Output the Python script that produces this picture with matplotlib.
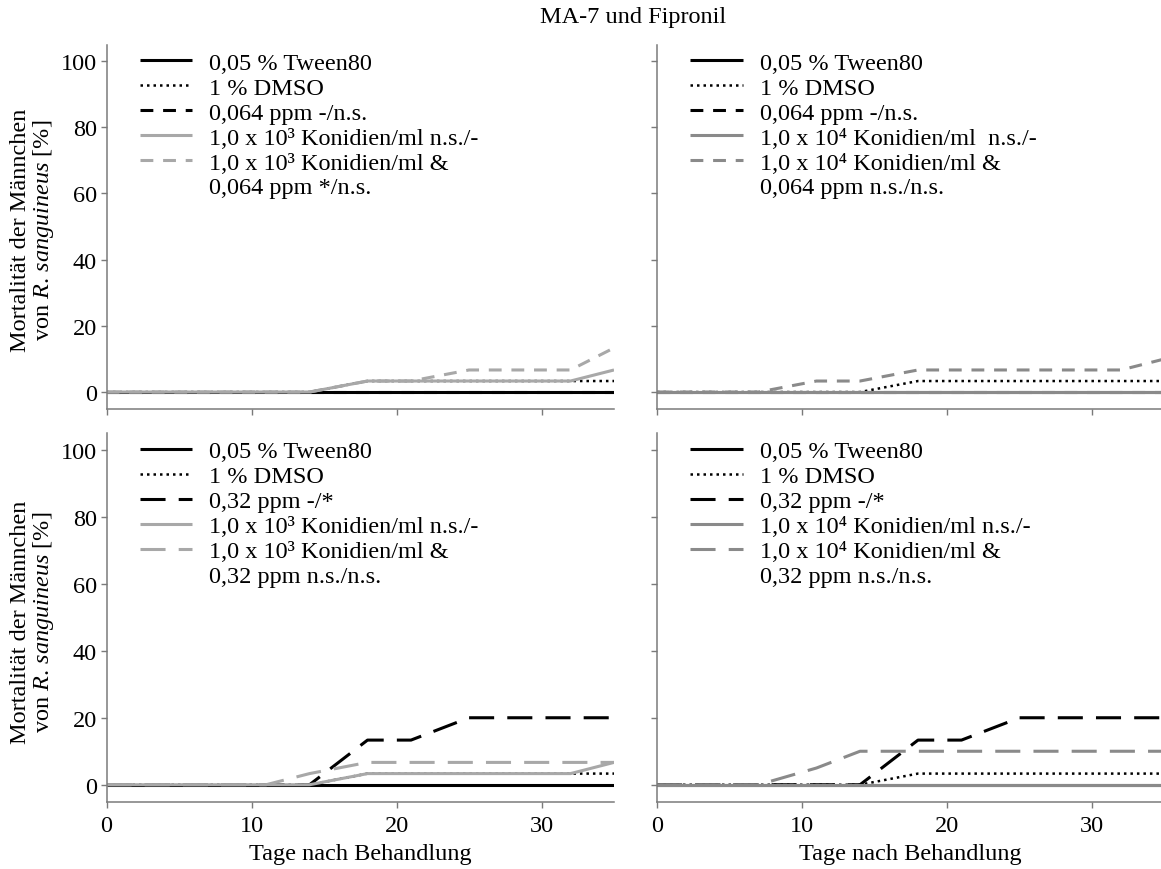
import matplotlib
matplotlib.use("Agg")
import matplotlib.pyplot as plt
from matplotlib.lines import Line2D

plt.rcParams['font.family'] = ['Liberation Serif', 'DejaVu Serif']
plt.rcParams['mathtext.fontset'] = 'custom'
plt.rcParams['mathtext.rm'] = 'Liberation Serif'
plt.rcParams['mathtext.it'] = 'Liberation Serif:italic'
plt.rcParams['font.size'] = 17.5

FS = 17.5

# Beobachtungstage
days = [0, 4, 7, 11, 14, 18, 21, 25, 28, 32, 35]

# 0,064 ppm Fipronil, 1,0 x 10^3 Konidien/ml
tl_tween = [0, 0, 0, 0, 0, 0, 0, 0, 0, 0, 0]
tl_dmso = [0, 0, 0, 0, 0, 3.33, 3.33, 3.33, 3.33, 3.33, 3.33]
tl_fip = [0, 0, 0, 0, 0, 0, 0, 0, 0, 0, 0]
tl_ma7 = [0, 0, 0, 0, 0, 3.33, 3.33, 3.33, 3.33, 3.33, 6.67]
tl_combo = [0, 0, 0, 0, 0, 3.33, 3.33, 6.67, 6.67, 6.67, 13.33]

# 0,064 ppm Fipronil, 1,0 x 10^4 Konidien/ml
tr_tween = [0, 0, 0, 0, 0, 0, 0, 0, 0, 0, 0]
tr_dmso = [0, 0, 0, 0, 0, 3.33, 3.33, 3.33, 3.33, 3.33, 3.33]
tr_fip = [0, 0, 0, 0, 0, 0, 0, 0, 0, 0, 0]
tr_ma7 = [0, 0, 0, 0, 0, 0, 0, 0, 0, 0, 0]
tr_combo = [0, 0, 0, 3.33, 3.33, 6.67, 6.67, 6.67, 6.67, 6.67, 10]

# 0,32 ppm Fipronil, 1,0 x 10^3 Konidien/ml
bl_tween = [0, 0, 0, 0, 0, 0, 0, 0, 0, 0, 0]
bl_dmso = [0, 0, 0, 0, 0, 3.33, 3.33, 3.33, 3.33, 3.33, 3.33]
bl_fip = [0, 0, 0, 0, 0, 13.33, 13.33, 20, 20, 20, 20]
bl_ma7 = [0, 0, 0, 0, 0, 3.33, 3.33, 3.33, 3.33, 3.33, 6.67]
bl_combo = [0, 0, 0, 0, 3.33, 6.67, 6.67, 6.67, 6.67, 6.67, 6.67]

# 0,32 ppm Fipronil, 1,0 x 10^4 Konidien/ml
br_tween = [0, 0, 0, 0, 0, 0, 0, 0, 0, 0, 0]
br_dmso = [0, 0, 0, 0, 0, 3.33, 3.33, 3.33, 3.33, 3.33, 3.33]
br_fip = [0, 0, 0, 0, 0, 13.33, 13.33, 20, 20, 20, 20]
br_ma7 = [0, 0, 0, 0, 0, 0, 0, 0, 0, 0, 0]
br_combo = [0, 0, 0, 5, 10, 10, 10, 10, 10, 10, 10]

# letzte Zeile = Fortsetzung des Kombinations-Eintrags
tl_labels = ["0,05 % Tween80", "1 % DMSO", "0,064 ppm -/n.s.",
             "1,0 x 10³ Konidien/ml n.s./-",
             "1,0 x 10³ Konidien/ml &", "0,064 ppm */n.s."]
tr_labels = ["0,05 % Tween80", "1 % DMSO", "0,064 ppm -/n.s.",
             "1,0 x 10⁴ Konidien/ml  n.s./-",
             "1,0 x 10⁴ Konidien/ml &", "0,064 ppm n.s./n.s."]
bl_labels = ["0,05 % Tween80", "1 % DMSO", "0,32 ppm -/*",
             "1,0 x 10³ Konidien/ml n.s./-",
             "1,0 x 10³ Konidien/ml &", "0,32 ppm n.s./n.s."]
br_labels = ["0,05 % Tween80", "1 % DMSO", "0,32 ppm -/*",
             "1,0 x 10⁴ Konidien/ml n.s./-",
             "1,0 x 10⁴ Konidien/ml &", "0,32 ppm n.s./n.s."]

W, H = 1161, 870
LIGHT = '#a8a8a8'
DARK = '#8a8a8a'
SPINE = '#7a7a7a'


def rect(left, right, top, bottom):
    return [left / W, 1 - bottom / H, (right - left) / W, (bottom - top) / H]


def draw_panel(ax, series, labels, gray, short_dash, xlabels, ylabels):
    dash = (4.2, 3.2) if short_dash else (8.2, 4.3)
    styles = [
        dict(color='black', lw=2.2),
        dict(color='black', lw=1.8, dashes=(1, 1.6)),
        dict(color='black', lw=2.2, dashes=dash),
        dict(color=gray, lw=2.2),
        dict(color=gray, lw=2.2, dashes=dash),
    ]
    handles = []
    for vals, lab, st in zip(series, labels, styles):
        h, = ax.plot(days, vals, label=lab, solid_capstyle='butt',
                     dash_capstyle='butt', **st)
        handles.append(h)
    handles.append(Line2D([], [], color='none'))

    ax.set_xlim(0, 35)
    ax.set_ylim(-5, 105)
    ax.set_xticks([0, 10, 20, 30])
    ax.set_yticks([0, 20, 40, 60, 80, 100])
    if not xlabels:
        ax.set_xticklabels([])
    if not ylabels:
        ax.set_yticklabels([])
    for side in ('top', 'right'):
        ax.spines[side].set_visible(False)
    for side in ('left', 'bottom'):
        ax.spines[side].set_color(SPINE)
        ax.spines[side].set_linewidth(1.1)
    ax.tick_params(direction='out', length=4, width=1.0, color=SPINE,
                   labelsize=FS, pad=3)
    ax.tick_params(axis='x', pad=6)

    ax.legend(handles, labels, loc='upper left',
              bbox_to_anchor=(0.066, 0.98),
              frameon=False, borderpad=0, borderaxespad=0,
              handlelength=2.15, handletextpad=0.7, labelspacing=0.12,
              fontsize=FS)


fig = plt.figure(figsize=(W / 100, H / 100), dpi=100)

ax_tl = fig.add_axes(rect(106.5, 614, 45.5, 409.6))
ax_tr = fig.add_axes(rect(657, 1164.5, 45.5, 409.6))
ax_bl = fig.add_axes(rect(106.5, 614, 434, 802.5))
ax_br = fig.add_axes(rect(657, 1164.5, 434, 802.5))

draw_panel(ax_tl, [tl_tween, tl_dmso, tl_fip, tl_ma7, tl_combo], tl_labels,
           LIGHT, True, False, True)
draw_panel(ax_tr, [tr_tween, tr_dmso, tr_fip, tr_ma7, tr_combo], tr_labels,
           DARK, True, False, False)
draw_panel(ax_bl, [bl_tween, bl_dmso, bl_fip, bl_ma7, bl_combo], bl_labels,
           LIGHT, False, True, True)
draw_panel(ax_br, [br_tween, br_dmso, br_fip, br_ma7, br_combo], br_labels,
           DARK, False, True, False)

for ax in (ax_bl, ax_br):
    ax.set_xlabel("Tage nach Behandlung", fontsize=FS, labelpad=5)

ylab = "Mortalität der Männchen\nvon $\\mathit{R.\\,sanguineus}$ [%]"
for yc in (230, 622):
    fig.text(33 / W, 1 - yc / H, ylab, rotation=90, ha='center', va='center',
             multialignment='center', fontsize=FS, linespacing=0.98)

fig.text(633 / W, 1 - 18 / H, "MA-7 und Fipronil", ha='center', va='center',
         fontsize=FS)

fig.savefig("out.png", dpi=100)
